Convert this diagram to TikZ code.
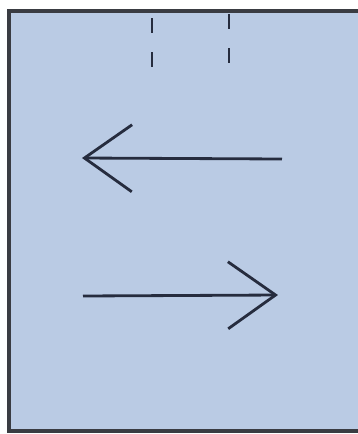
\documentclass[tikz,border=0pt]{standalone}
\usepackage{tikz}
\usetikzlibrary{arrows.meta}
\definecolor{paperblue}{RGB}{186, 203, 228}
\definecolor{inkblue}{RGB}{38, 44, 62}
\definecolor{framegray}{RGB}{58, 60, 66}
\tikzset{
    paper/.style={
        fill=paperblue
    },
    paperedge/.style={
        draw=framegray,
        line width=2.2pt
    },
    bigarrow/.style={
        -{Straight Barb[length=0.95cm, width=1.34cm]},
        line width=1.6pt,
        color=inkblue
    },
    guideline/.style={
        draw=inkblue,
        line width=1.1pt,
        dash pattern=on 0.3cm off 0.38cm
    }
}
\begin{document}
\begin{tikzpicture}[x=0.02cm, y=-0.02cm]
    \useasboundingbox (0,0) rectangle (358,434);
    \fill[white] (0,0) rectangle (358,434);
    \fill[paper] (9,11) rectangle (358,431);
    \draw[paperedge] (358,11) -- (9,11) -- (9,431) -- (358,431);

    % two dashed marks at the top
    \coordinate (guideAtop) at (152,18);
    \coordinate (guideAbot) at (152,68);
    \coordinate (guideBtop) at (229,14);
    \coordinate (guideBbot) at (229,64);
    \draw[guideline] (guideAtop) -- (guideAbot);
    \draw[guideline] (guideBtop) -- (guideBbot);

    % arrows
    \coordinate (leftTail) at (282,159);
    \coordinate (leftTip) at (82,158);
    \coordinate (rightTail) at (83,296);
    \coordinate (rightTip) at (278,295);
    \draw[bigarrow] (leftTail) -- (leftTip);
    \draw[bigarrow] (rightTail) -- (rightTip);
\end{tikzpicture}
\end{document}
